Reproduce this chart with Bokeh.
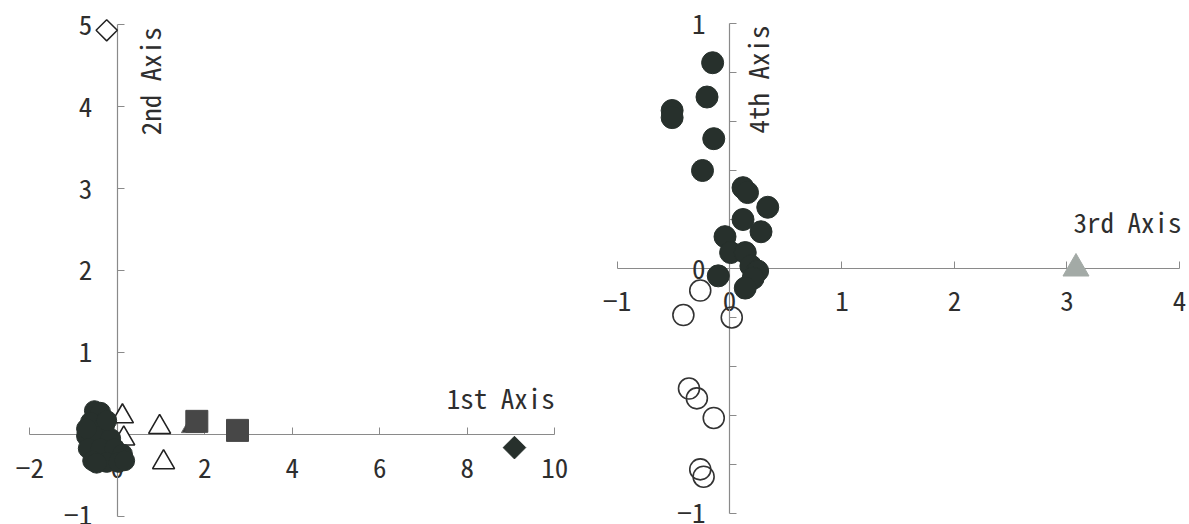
import numpy as np
from bokeh.plotting import figure
from bokeh.models import LinearAxis, FixedTicker
from bokeh.layouts import row
from bokeh.embed import file_html
from bokeh.resources import INLINE
from bokeh.core.properties import value

FONT = "'Noto Sans Mono CJK JP', 'Noto Sans CJK JP', sans-serif"

# ---------------- Left panel: 1st axis vs 2nd axis ----------------
left_x_ticks = [-2, 0, 2, 4, 6, 8, 10]
left_x_labels = ["\u22122", "0", "2", "4", "6", "8", "10"]
left_y_ticks = [-1, 0, 1, 2, 3, 4, 5]
left_y_labels = ["\u22121", "0", "1", "2", "3", "4", "5"]

l_black_x = [-0.52, -0.38, -0.61, -0.29, -0.70, -0.43, -0.15, -0.66, -0.38, -0.06,
             0.12, -0.56, -0.24, 0.03, -0.47, 0.17, -0.24, -0.70]
l_black_y = [0.29, 0.27, 0.15, 0.11, -0.02, -0.02, -0.05, -0.17, -0.17, -0.17,
             -0.24, -0.32, -0.34, -0.34, -0.35, -0.32, 0.17, 0.07]
l_tri_open_x = [0.12, 0.97, 1.06, 0.15]
l_tri_open_y = [0.22, 0.09, -0.34, -0.05]
l_tri_dark_x = [1.72]
l_tri_dark_y = [0.10]
l_square_x = [1.82, 2.75]
l_square_y = [0.16, 0.05]
l_diam_black_x = [9.08]
l_diam_black_y = [-0.16]
l_diam_open_x = [-0.24]
l_diam_open_y = [4.93]

# ---------------- Right panel: 3rd axis vs 4th axis ----------------
right_x_ticks = [-1, 0, 1, 2, 3, 4]
right_x_labels = ["\u22121", "0", "1", "2", "3", "4"]
right_y_ticks = [-1, 0, 1]
right_y_labels = ["\u22121", "0", "1"]
right_y_minor = [-0.8, -0.6, -0.4, -0.2, 0.2, 0.4, 0.6, 0.8]

r_black_x = [-0.15, -0.20, -0.51, -0.51, -0.14, -0.24, 0.12, 0.16, 0.34, 0.12,
             0.28, -0.04, 0.01, 0.14, 0.19, 0.25, 0.21, -0.10, 0.14]
r_black_y = [0.84, 0.70, 0.645, 0.616, 0.53, 0.40, 0.33, 0.31, 0.25, 0.20,
             0.15, 0.13, 0.065, 0.065, 0.01, -0.01, -0.04, -0.03, -0.08]
r_open_x = [-0.26, -0.41, 0.02, -0.36, -0.29, -0.14, -0.26, -0.23]
r_open_y = [-0.09, -0.19, -0.20, -0.49, -0.53, -0.61, -0.82, -0.85]
r_tri_x = [3.08]
r_tri_y = [0.0]

AXIS_COLOR = "#8a8a8a"
TEXT_COLOR = "#2e2e2e"
BLACK = "#27302c"
FS = "27px"


def base_fig(w, h, xr, yr):
    p = figure(width=w, height=h, x_range=xr, y_range=yr,
               x_axis_location=None, y_axis_location=None,
               toolbar_location=None, output_backend="svg",
               min_border=0, outline_line_color=None,
               background_fill_color="white", border_fill_color="white")
    for g in p.grid:
        g.visible = False
    return p


def add_axis(p, side, ticks, labels, bounds, standoff, minor=None):
    ax = LinearAxis(fixed_location=0,
                    ticker=FixedTicker(ticks=ticks, minor_ticks=minor or []),
                    bounds=bounds)
    ax.axis_line_color = AXIS_COLOR
    ax.axis_line_width = 1.2
    ax.major_tick_line_color = AXIS_COLOR
    ax.minor_tick_line_color = AXIS_COLOR
    ax.major_tick_in = 7
    ax.major_tick_out = 0
    ax.minor_tick_in = 7 if minor else 0
    ax.minor_tick_out = 0
    ax.major_label_standoff = standoff
    ax.major_label_text_font = FONT
    ax.major_label_text_font_size = FS
    ax.major_label_text_color = TEXT_COLOR
    ax.major_label_overrides = {t: s for t, s in zip(ticks, labels)}
    ax.level = "underlay"
    p.add_layout(ax, side)
    return ax


# ---- left figure ----
p1 = base_fig(590, 524, (-2.667, 10.818), (-1.098, 5.293))
add_axis(p1, "below", left_x_ticks, left_x_labels, (-2, 10), 24)
add_axis(p1, "left", left_y_ticks, left_y_labels, (-1, 5), 25)

p1.scatter(l_tri_open_x, l_tri_open_y, marker="triangle", size=22,
           fill_color="white", line_color="#222222", line_width=1.6)
p1.scatter(l_black_x, l_black_y, marker="circle", size=20,
           fill_color=BLACK, line_color=BLACK)
p1.scatter(l_tri_dark_x, l_tri_dark_y, marker="triangle", size=22,
           fill_color="#3a3a3a", line_color="#6a6a6a", line_width=1)
p1.scatter(l_square_x, l_square_y, marker="square", size=22,
           fill_color="#474747", line_color="#474747")
p1.scatter(l_diam_black_x, l_diam_black_y, marker="square", angle=np.pi / 4,
           size=16, fill_color=BLACK, line_color=BLACK)
p1.scatter(l_diam_open_x, l_diam_open_y, marker="square", angle=np.pi / 4,
           size=15, fill_color="white", line_color="#222222", line_width=1.5)

p1.text(x=[7.53], y=[0.45], text=["1st  Axis"], text_font=value(FONT),
        text_font_size=FS, text_color=TEXT_COLOR, text_align="left",
        text_baseline="alphabetic")
p1.text(x=[0.74], y=[3.65], text=["2nd  Axis"], text_font=value(FONT),
        text_font_size=FS, text_color=TEXT_COLOR, text_align="left",
        text_baseline="middle", angle=np.pi / 2)

# ---- right figure ----
p2 = base_fig(599, 524, (-1.2356, 4.089), (-1.045, 1.094))
add_axis(p2, "below", right_x_ticks, right_x_labels, (-1, 4), 22)
add_axis(p2, "left", right_y_ticks, right_y_labels, (-1, 1), 24, minor=right_y_minor)

p2.scatter(r_black_x, r_black_y, marker="circle", size=22,
           fill_color=BLACK, line_color=BLACK)
p2.scatter(r_open_x, r_open_y, marker="circle", size=21,
           fill_color="white", fill_alpha=0.0, line_color="#333333", line_width=1.6)
p2.scatter(r_tri_x, r_tri_y, marker="triangle", size=26,
           fill_color="#a3aaa6", line_color="#a3aaa6")

p2.text(x=[3.058], y=[0.19], text=["3rd  Axis"], text_font=value(FONT),
        text_font_size=FS, text_color=TEXT_COLOR, text_align="left",
        text_baseline="alphabetic")
p2.text(x=[0.245], y=[0.551], text=["4th  Axis"], text_font=value(FONT),
        text_font_size=FS, text_color=TEXT_COLOR, text_align="left",
        text_baseline="middle", angle=np.pi / 2)

layout = row(p1, p2)
open("out.html", "w").write(file_html(layout, INLINE))
